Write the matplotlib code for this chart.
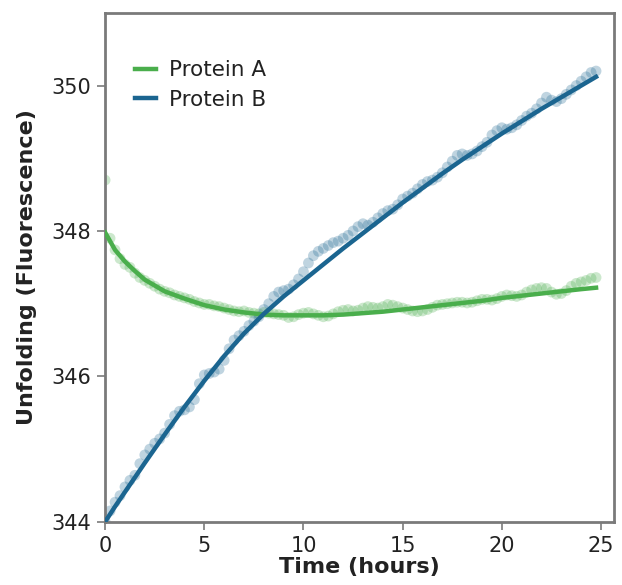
import numpy as np
import matplotlib
matplotlib.use("Agg")
import matplotlib.pyplot as plt

plt.rcParams['font.family'] = ['DejaVu Sans']

# measurement times (hours), sampled every 15 min
time_h = np.arange(100) * 0.25

protein_a = [
    348.70, 347.90, 347.74, 347.62, 347.54, 347.50, 347.42, 347.36, 347.32, 347.28,
    347.24, 347.20, 347.17, 347.15, 347.12, 347.10, 347.08, 347.06, 347.03, 347.01,
    346.99, 346.99, 346.97, 346.96, 346.94, 346.92, 346.90, 346.89, 346.90, 346.88,
    346.87, 346.86, 346.88, 346.87, 346.86, 346.85, 346.84, 346.81, 346.82, 346.85,
    346.87, 346.88, 346.86, 346.84, 346.82, 346.83, 346.86, 346.89, 346.91, 346.92,
    346.90, 346.91, 346.94, 346.96, 346.95, 346.94, 346.96, 346.99, 346.98, 346.96,
    346.94, 346.92, 346.90, 346.89, 346.90, 346.92, 346.95, 346.98, 346.99, 347.00,
    347.01, 347.02, 347.02, 347.01, 347.02, 347.04, 347.06, 347.06, 347.05, 347.07,
    347.10, 347.12, 347.11, 347.10, 347.12, 347.16, 347.19, 347.21, 347.22, 347.21,
    347.16, 347.13, 347.14, 347.18, 347.24, 347.28, 347.30, 347.32, 347.35, 347.36,
]

protein_b = [
    344.00, 344.15, 344.27, 344.36, 344.48, 344.57, 344.64, 344.80, 344.92, 345.00,
    345.08, 345.14, 345.22, 345.34, 345.46, 345.52, 345.54, 345.58, 345.68, 345.90,
    346.02, 346.04, 346.06, 346.10, 346.22, 346.38, 346.50, 346.56, 346.62, 346.70,
    346.76, 346.82, 346.92, 347.00, 347.10, 347.16, 347.18, 347.20, 347.26, 347.34,
    347.44, 347.56, 347.66, 347.72, 347.76, 347.80, 347.84, 347.86, 347.90, 347.94,
    348.00, 348.06, 348.10, 348.08, 348.12, 348.18, 348.24, 348.28, 348.30, 348.36,
    348.44, 348.48, 348.52, 348.58, 348.64, 348.68, 348.70, 348.74, 348.80, 348.88,
    348.96, 349.04, 349.06, 349.04, 349.06, 349.10, 349.16, 349.22, 349.32, 349.38,
    349.42, 349.40, 349.42, 349.46, 349.52, 349.58, 349.62, 349.68, 349.76, 349.84,
    349.80, 349.78, 349.82, 349.88, 349.94, 350.00, 350.06, 350.12, 350.18, 350.20,
]

# fitted curves
fit_t = [0, 0.5, 1, 1.5, 2, 3, 4, 5, 6, 7, 8, 9, 10, 11, 12, 13, 14, 15, 16,
         17, 18, 19, 20, 21, 22, 23, 24, 24.75]
fit_a = [347.98, 347.74, 347.58, 347.45, 347.33, 347.17, 347.07, 346.98, 346.92,
         346.88, 346.85, 346.84, 346.84, 346.84, 346.85, 346.87, 346.89, 346.92,
         346.95, 346.98, 347.01, 347.04, 347.08, 347.11, 347.14, 347.17, 347.20, 347.22]
fit_b = [344.00, 344.21, 344.41, 344.61, 344.81, 345.20, 345.58, 345.94, 346.28,
         346.59, 346.86, 347.10, 347.32, 347.54, 347.76, 347.97, 348.18, 348.39,
         348.59, 348.79, 348.98, 349.16, 349.34, 349.51, 349.68, 349.84, 350.00, 350.12]

green = '#4aae4c'
blue = '#1b6590'
grey = '#7a7a7a'
text_col = '#222222'

fig = plt.figure(figsize=(6.22, 5.85), dpi=100)
ax = fig.add_axes([0.169, 0.108, 0.818, 0.870])

ax.scatter(time_h, protein_a, s=60, color=green, alpha=0.28, edgecolors='none', zorder=2)
ax.scatter(time_h, protein_b, s=60, color=blue, alpha=0.28, edgecolors='none', zorder=2)
ax.plot(fit_t, fit_a, color=green, lw=3.2, label='Protein A', zorder=3)
ax.plot(fit_t, fit_b, color=blue, lw=3.2, label='Protein B', zorder=3)

ax.set_xlim(0, 25.65)
ax.set_ylim(344, 351)
ax.set_xticks([0, 5, 10, 15, 20, 25])
ax.set_yticks([344, 346, 348, 350])

for s in ax.spines.values():
    s.set_color(grey)
    s.set_linewidth(2)

ax.tick_params(axis='both', colors=grey, length=6, width=1.2, labelsize=15,
               labelcolor=text_col, pad=4)

ax.set_xlabel('Time (hours)', fontsize=16, fontweight='bold', color=text_col, labelpad=1)
ax.set_ylabel('Unfolding (Fluorescence)', fontsize=16, fontweight='bold', color=text_col, labelpad=10)

leg = ax.legend(loc='upper left', bbox_to_anchor=(0.02, 0.945), frameon=False,
                fontsize=15.5, handlelength=1.0, handletextpad=0.6, labelspacing=0.45)
for t in leg.get_texts():
    t.set_color(text_col)

fig.savefig('out.png', dpi=100)
